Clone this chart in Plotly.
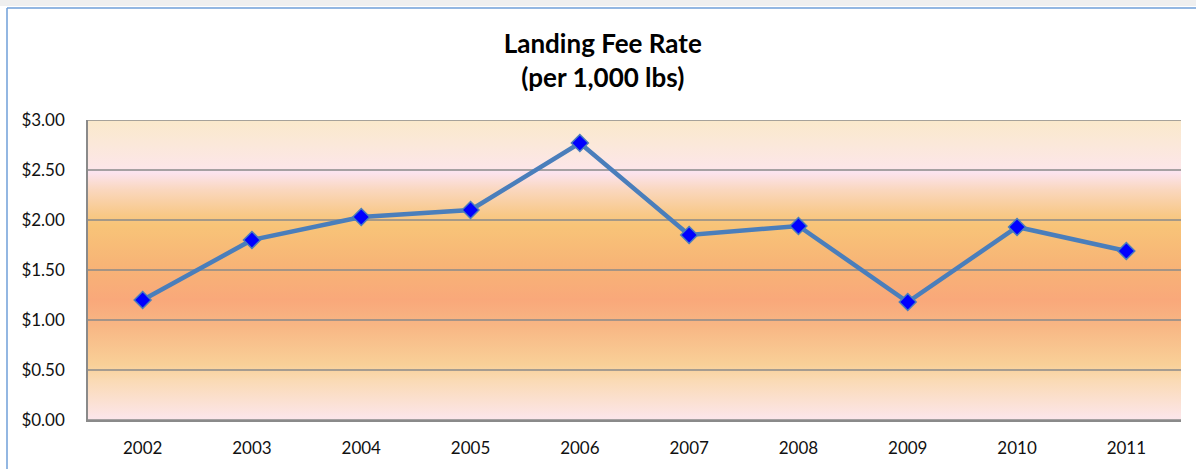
import plotly.graph_objects as go

years = ["2002", "2003", "2004", "2005", "2006", "2007", "2008", "2009", "2010", "2011"]
fee_rate = [1.20, 1.80, 2.03, 2.10, 2.77, 1.85, 1.94, 1.18, 1.93, 1.69]
y_ticks = [0, 0.5, 1.0, 1.5, 2.0, 2.5, 3.0]
y_labels = ["$0.00", "$0.50", "$1.00", "$1.50", "$2.00", "$2.50", "$3.00"]

W, H = 1196, 469
L, R, T, B = 88, 15, 120, 49
pw, ph = W - L - R, H - T - B
GRID = "#8A8A8A"

# background gradient stops: (value on y axis, colour)
bg_stops = [
    (0.00, "rgb(252,230,236)"),
    (0.40, "rgb(250,218,180)"),
    (0.55, "rgb(249,208,152)"),
    (0.95, "rgb(248,182,132)"),
    (1.20, "rgb(249,168,122)"),
    (1.55, "rgb(247,180,118)"),
    (1.95, "rgb(248,196,120)"),
    (2.05, "rgb(248,200,135)"),
    (2.30, "rgb(250,215,190)"),
    (2.48, "rgb(252,228,240)"),
    (2.52, "rgb(252,230,232)"),
    (2.75, "rgb(251,232,218)"),
    (3.00, "rgb(250,233,203)"),
]

fig = go.Figure()

# gradient background of plot area (numeric hidden axis x)
fig.add_trace(go.Scatter(
    x=[0, 1, 1, 0, 0], y=[0, 0, 3, 3, 0], xaxis="x", yaxis="y",
    mode="lines", line=dict(width=0), fill="toself",
    fillgradient=dict(type="vertical", start=0, stop=3,
                      colorscale=[[v / 3.0, c] for v, c in bg_stops]),
    hoverinfo="skip", showlegend=False,
))

# horizontal gridlines drawn over the gradient
gx, gy = [], []
for v in y_ticks:
    gx += [0, 1, None]
    gy += [v, v, None]
fig.add_trace(go.Scatter(x=gx, y=gy, xaxis="x", yaxis="y", mode="lines",
                         line=dict(color=GRID, width=1.4),
                         hoverinfo="skip", showlegend=False, cliponaxis=False))

# data line on the category axis
fig.add_trace(go.Scatter(
    x=years, y=fee_rate, xaxis="x2", yaxis="y", mode="lines+markers",
    line=dict(color="#4A7EBB", width=4.5),
    marker=dict(symbol="diamond", size=13, color="#0000FF",
                line=dict(color="#4A7EBB", width=1.5)),
    showlegend=False,
))

# outer frame
fig.add_shape(type="rect", xref="paper", yref="paper",
              x0=-(L) / pw, x1=1 + R / pw + 0.01,
              y0=1 + (T - 6) / ph, y1=1 + (T + 2) / ph,
              line=dict(width=0), fillcolor="#EFEFEF", layer="below")
fig.add_shape(type="line", xref="paper", yref="paper",
              x0=-(L - 7) / pw, x1=1 + R / pw + 0.01,
              y0=1 + (T - 8) / ph, y1=1 + (T - 8) / ph,
              line=dict(color="#6F9FD8", width=1.5))
fig.add_shape(type="line", xref="paper", yref="paper",
              x0=-(L - 7) / pw, x1=-(L - 7) / pw,
              y0=1 + (T - 8) / ph, y1=-B / ph - 0.01,
              line=dict(color="#6F9FD8", width=1.5))

fig.update_layout(
    width=W, height=H,
    margin=dict(l=L, r=R, t=T, b=B, autoexpand=False),
    paper_bgcolor="white", plot_bgcolor="white",
    font=dict(family="Lato", size=17, color="#111111"),
    title=dict(text="<b>Landing Fee Rate<br>(per 1,000 lbs)</b>",
               x=0.504, xanchor="center", y=1 - 53 / H, yanchor="middle",
               font=dict(family="Lato", size=26, color="#000000")),
    xaxis=dict(range=[0, 1], visible=False, showgrid=False, zeroline=False,
               automargin=False),
    xaxis2=dict(type="category", range=[-0.5, len(years) - 0.5], overlaying="x",
                side="bottom", showgrid=False, showline=True, linecolor=GRID, linewidth=1.5,
                ticks="", ticklabelstandoff=12, zeroline=False, automargin=False),
    yaxis=dict(range=[0, 3], tickvals=y_ticks, ticktext=y_labels,
               showgrid=False, showline=True, linecolor=GRID, linewidth=1.5,
               ticks="", ticklabelstandoff=18, zeroline=False, automargin=False),
)

fig.write_html("out.html", config={"displayModeBar": False},
               post_script="document.body.style.margin='0px';")
